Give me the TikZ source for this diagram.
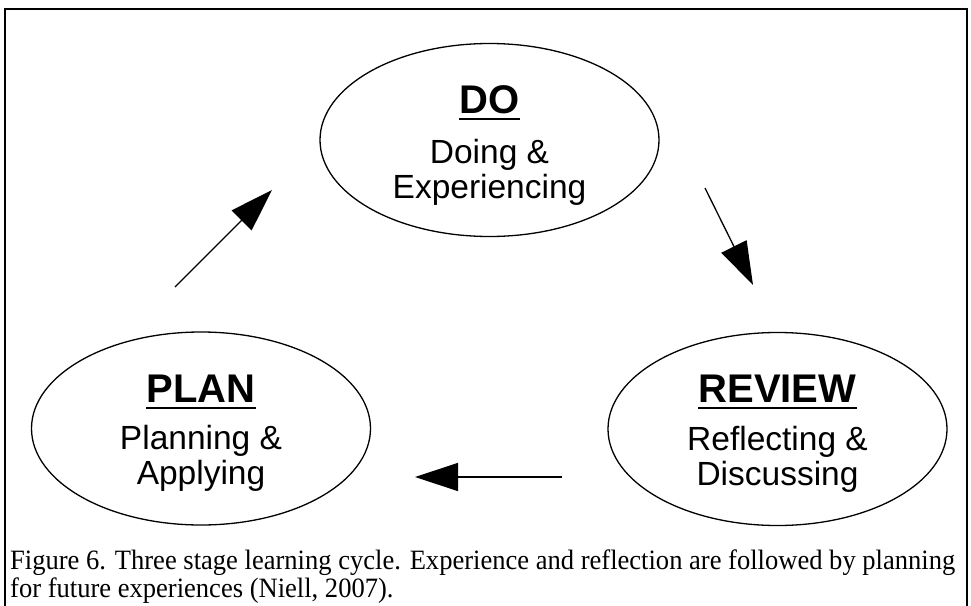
\documentclass[tikz,border=0pt]{standalone}
\usepackage{fontspec}
\setmainfont{Liberation Serif}
\newfontfamily\arialf{Liberation Sans}
\usetikzlibrary{arrows.meta,shapes.geometric}
\newsavebox\capboxA
\newsavebox\capboxB
\begin{document}
\savebox\capboxA{\fontsize{28}{30}\selectfont Figure 6. Three stage learning cycle. Experience and reflection are followed by planning}%
\savebox\capboxB{\fontsize{28}{30}\selectfont for future experiences (Niell, 2007).}%
\begin{tikzpicture}[x=1pt,y=-1pt,
  stage/.style={draw=black, line width=1.3pt, ellipse, minimum width=339pt, minimum height=193pt, inner sep=0pt},
  title/.style={font=\arialf\bfseries\fontsize{40}{40}\selectfont, inner sep=0pt, anchor=base},
  sub/.style={font=\arialf\fontsize{33.5}{34}\selectfont, inner sep=0pt, anchor=base},
  uline/.style={line width=2pt},
  flow/.style={line width=1.3pt, -{Triangle[length=43pt,width=28pt]}},
  capt/.style={inner sep=0pt, anchor=base west},
]
\pgfmathsetmacro\capf{945/\the\wd\capboxA}
\clip (0,0) rectangle (971,605);
\fill[white] (0,0) rectangle (971,605);
\draw[line width=2pt] (5,9) rectangle (967,640);

% DO
\node[stage] (do) at (489.5,140) {};
\node[title] (doT) at (489.5,113) {DO};
\draw[uline] ([yshift=-6pt]doT.base west) -- ([yshift=-6pt]doT.base east);
\node[sub] (doA) at (489.5,163) {Doing \&};
\node[sub] (doB) at (489.5,198) {Experiencing};

% PLAN
\node[stage] (plan) at (201,428.5) {};
\node[title] (planT) at (201,402) {PLAN};
\draw[uline] ([yshift=-6pt]planT.base west) -- ([yshift=-6pt]planT.base east);
\node[sub] (planA) at (201,449) {Planning \&};
\node[sub] (planB) at (201,484) {Applying};

% REVIEW
\node[stage] (review) at (777.5,429) {};
\node[title] (reviewT) at (777.5,402) {REVIEW};
\draw[uline] ([yshift=-6pt]reviewT.base west) -- ([yshift=-6pt]reviewT.base east);
\node[sub] (reviewA) at (777.5,450) {Reflecting \&};
\node[sub] (reviewB) at (777.5,485) {Discussing};

% arrows
\coordinate (a1s) at (175,287);
\coordinate (a1e) at (272,190);
\coordinate (a2s) at (705,188);
\coordinate (a2e) at (753,285);
\coordinate (a3s) at (562,477);
\coordinate (a3e) at (415,477);
\draw[flow] (a1s) -- (a1e);
\draw[flow] (a2s) -- (a2e);
\draw[flow] (a3s) -- (a3e);

% caption
\node[capt] (cap1) at (10,569) {\scalebox{\capf}[1]{\usebox\capboxA}};
\node[capt] (cap2) at (10,597) {\scalebox{\capf}[1]{\usebox\capboxB}};
\end{tikzpicture}
\end{document}
